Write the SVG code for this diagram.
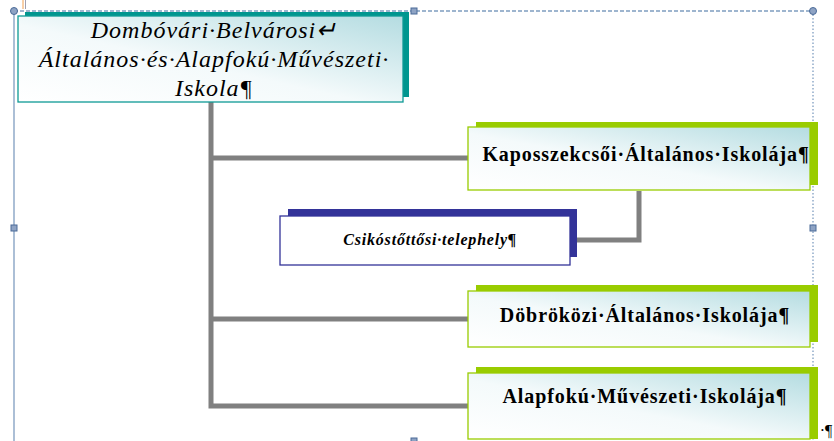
<svg xmlns="http://www.w3.org/2000/svg" width="834" height="441" viewBox="0 0 834 441">
<defs>
<linearGradient id="g" x1="0" y1="1" x2="1" y2="0">
<stop offset="0" stop-color="#ffffff"/>
<stop offset="0.45" stop-color="#f4fafb"/>
<stop offset="1" stop-color="#b4dce1"/>
</linearGradient>
<style>
.conn{stroke:#808080;stroke-width:5;fill:none}
.box{fill:url(#g);stroke-width:1.3}
.t{font-family:"Liberation Serif","Times New Roman",serif;text-anchor:middle;fill:#000}
.sub{font-weight:bold;font-size:20px;letter-spacing:0.9px}
.frame{stroke:#7f9dc0;stroke-width:1.3;fill:none}
.h{fill:#8ea3c4;stroke:#4a6a98;stroke-width:1}
</style>
</defs>
<rect width="834" height="441" fill="#ffffff"/>
<g id="frame">
<line class="frame" x1="14" y1="11" x2="14" y2="441"/>
<line class="frame" x1="14" y1="11" x2="813" y2="11" stroke-dasharray="4,2"/>
<line class="frame" x1="813" y1="11" x2="813" y2="441" stroke-dasharray="1.5,2"/>
<circle class="h" cx="14" cy="11" r="3.5"/>
<circle class="h" cx="813" cy="11" r="3.5"/>
<rect class="h" x="411" y="8" width="6" height="6"/>
<rect class="h" x="11" y="225" width="6" height="6"/>
<rect class="h" x="810" y="225" width="6" height="6"/>
<rect class="h" x="411" y="438" width="6" height="6"/>
<line x1="23" y1="0" x2="23" y2="9" stroke="#f0a050" stroke-width="1"/>
<line x1="25.5" y1="0" x2="25.5" y2="9" stroke="#a0a0b0" stroke-width="1"/>
</g>
<g id="connectors">
<polyline class="conn" points="211,102 211,406 470,406"/>
<line class="conn" x1="211" y1="158" x2="470" y2="158"/>
<line class="conn" x1="211" y1="319" x2="470" y2="319"/>
<polyline class="conn" points="639,191 639,240 577,240"/>
</g>
<g id="root">
<rect x="25" y="12" width="384" height="85" fill="#00968f"/>
<rect class="box" x="18" y="16" width="385" height="86" stroke="#0e9a95"/>
<text class="t" font-style="italic" font-size="24" letter-spacing="1"><tspan x="214" y="38">Dombóvári·Belvárosi↵</tspan><tspan x="214" y="67">Általános·és·Alapfokú·Művészeti·</tspan><tspan x="214" y="96">Iskola¶</tspan></text>
</g>
<g id="kaposszekcsoi">
<rect x="476" y="122" width="342" height="63" fill="#99cc00"/>
<rect class="box" x="468" y="127" width="342" height="63" stroke="#99cc00"/>
<text class="t sub" x="646" y="161">Kaposszekcsői·Általános·Iskolája¶</text>
</g>
<g id="csikostottosi">
<rect x="288" y="209" width="289" height="48" fill="#333399"/>
<rect x="280" y="216" width="290" height="49" fill="#ffffff" stroke="#333399" stroke-width="1.3"/>
<text class="t" font-weight="bold" font-style="italic" font-size="16" letter-spacing="0.8" x="430" y="245">Csikóstőttősi·telephely¶</text>
</g>
<g id="dobrokozi">
<rect x="476" y="285" width="342" height="57" fill="#99cc00"/>
<rect class="box" x="468" y="291" width="342" height="56" stroke="#99cc00"/>
<text class="t sub" x="645" y="322">Döbröközi·Általános·Iskolája¶</text>
</g>
<g id="alapfoku">
<rect x="476" y="367" width="342" height="72" fill="#99cc00"/>
<rect class="box" x="468" y="373" width="342" height="66" stroke="#99cc00"/>
<text class="t sub" x="645" y="403">Alapfokú·Művészeti·Iskolája¶</text>
</g>
<text class="t" font-size="16" x="826" y="436">·¶</text>
</svg>
